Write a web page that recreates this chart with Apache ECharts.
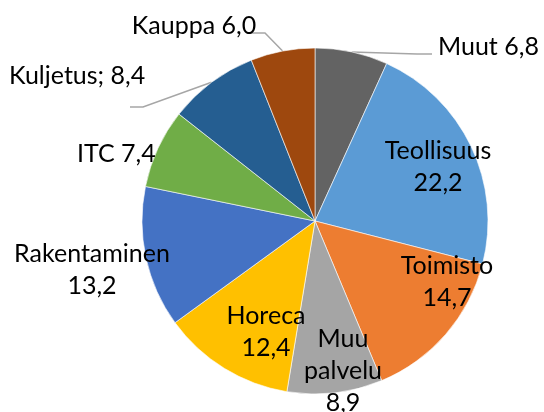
<!DOCTYPE html>
<html>
<head>
<meta charset="utf-8">
<script src="https://cdn.jsdelivr.net/npm/echarts@6/dist/echarts.min.js"></script>
<style>html,body{margin:0;padding:0;background:#fff}#c{width:544px;height:412px}</style>
</head>
<body>
<div id="c"></div>
<script>
const categories = ['Muut', 'Teollisuus', 'Toimisto', 'Muu\npalvelu', 'Horeca', 'Rakentaminen', 'ITC', 'Kuljetus', 'Kauppa'];
const values = [6.8, 22.2, 14.7, 8.9, 12.4, 13.2, 7.4, 8.4, 6.0];
const separators = [' ', '\n', '\n', '\n', '\n', '\n', ' ', '; ', ' '];
const colors = ['#636363', '#5B9BD5', '#ED7D31', '#A5A5A5', '#FFC000', '#4472C4', '#70AD47', '#255E91', '#9E480E'];

const CX = 315, CY = 221, R = 173;
// label anchor placements (text only)
const labelPlace = [
  {x: 438, y: 47, align: 'left', line: [[417, 54], [432, 54]]},
  {x: 438, y: 167, align: 'center'},
  {x: 447, y: 282, align: 'center'},
  {x: 343, y: 371, align: 'center'},
  {x: 266, y: 332, align: 'center'},
  {x: 92, y: 270, align: 'center'},
  {x: 77, y: 154, align: 'left'},
  {x: 9, y: 76, align: 'left', line: [[143, 107], [130, 107]]},
  {x: 194, y: 26, align: 'center', line: [[265, 33], [250, 33]]}
];

const total = values.reduce((a, b) => a + b, 0);
function edgePoint(i) {
  let before = 0;
  for (let k = 0; k < i; k++) before += values[k];
  const mid = (before + values[i] / 2) / total * 2 * Math.PI;
  return [CX + R * Math.sin(mid), CY - R * Math.cos(mid)];
}

const fmt = v => v.toFixed(1).replace('.', ',');

const data = categories.map((name, i) => ({
  name: name,
  value: values[i],
  itemStyle: {color: colors[i]},
  labelLine: {show: !!labelPlace[i].line}
}));

const chart = echarts.init(document.getElementById('c'), null, {renderer: 'canvas'});
chart.setOption({
  animation: false,
  series: [{
    type: 'pie',
    center: [CX, CY],
    radius: R,
    startAngle: 90,
    clockwise: true,
    avoidLabelOverlap: false,
    data: data,
    itemStyle: {borderColor: '#ffffff', borderWidth: 0.6},
    label: {
      show: true,
      position: 'outside',
      formatter: p => p.name + separators[p.dataIndex] + fmt(p.value),
      fontFamily: 'Lato',
      fontSize: 25,
      lineHeight: 32,
      color: '#000000',
      textAlign: 'center'
    },
    labelLine: {
      show: false,
      lineStyle: {color: '#A6A6A6', width: 1.5}
    },
    labelLayout: function (params) {
      const i = params.dataIndex;
      const p = labelPlace[i];
      const out = {x: p.x, y: p.y, align: p.align, verticalAlign: 'middle'};
      if (p.line) {
        out.labelLinePoints = [edgePoint(i), p.line[0], p.line[1]];
      }
      return out;
    }
  }]
});
</script>
</body>
</html>
